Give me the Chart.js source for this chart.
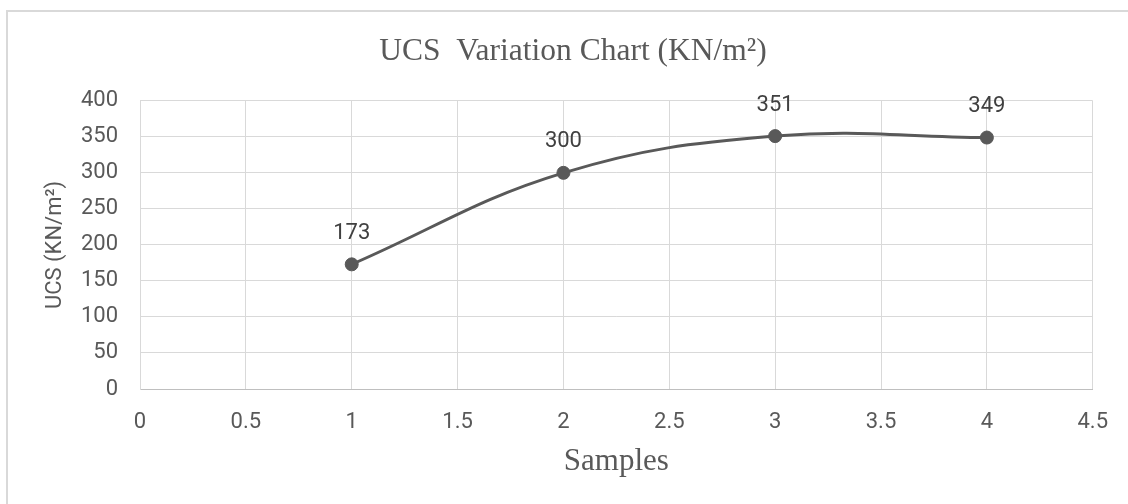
<!DOCTYPE html>
<html>
<head>
<meta charset="utf-8">
<script src="https://cdn.jsdelivr.net/npm/chart.js@4/dist/chart.umd.min.js"></script>
<style>
  html, body { margin: 0; padding: 0; background: #fff; }
  #wrap { position: relative; width: 1128px; height: 504px; overflow: hidden; }
  #frame { position: absolute; left: 6px; top: 10px; width: 1200px; height: 600px; border: 2px solid #d9d9d9; box-sizing: border-box; }
  #chart { position: absolute; left: 0; top: 0; }
</style>
</head>
<body>
<div id="wrap">
  <div id="frame"></div>
  <canvas id="chart" width="1128" height="504"></canvas>
</div>
<script>
// values
const samples = [1, 2, 3, 4];
const ucsValues = [173, 300, 351, 349];
const xTickLabels = ["0", "0.5", "1", "1.5", "2", "2.5", "3", "3.5", "4", "4.5"];
const yTickLabels = ["0", "50", "100", "150", "200", "250", "300", "350", "400"];

const TEXT = "#595959";
const GRID = "#d9d9d9";

Chart.defaults.font.family = "Roboto, 'Liberation Sans', sans-serif";
Chart.defaults.color = TEXT;

// simple point labels above each marker
const pointLabels = {
  id: "pointLabels",
  afterDatasetsDraw(chart) {
    const { ctx } = chart;
    const meta = chart.getDatasetMeta(0);
    ctx.save();
    ctx.font = "22px Roboto, sans-serif";
    ctx.fillStyle = "#404040";
    ctx.textAlign = "center";
    ctx.textBaseline = "middle";
    meta.data.forEach((pt, i) => {
      ctx.fillText(String(ucsValues[i]), pt.x, pt.y - 31);
    });
    ctx.restore();
  },
};

new Chart(document.getElementById("chart"), {
  type: "line",
  data: {
    datasets: [
      {
        label: "UCS",
        data: samples.map((x, i) => ({ x, y: ucsValues[i] })),
        borderColor: TEXT,
        borderWidth: 3,
        backgroundColor: TEXT,
        pointBackgroundColor: TEXT,
        pointBorderColor: TEXT,
        pointBorderWidth: 1,
        pointRadius: 6.5,
        tension: 0.4,
        fill: false,
      },
    ],
  },
  options: {
    responsive: false,
    animation: false,
    // left padding shifts the title centre to match the reference
    layout: { padding: { left: 49, right: 31, top: 0, bottom: 0 } },
    plugins: {
      legend: { display: false },
      tooltip: { enabled: false },
      title: {
        display: true,
        text: "UCS  Variation Chart (KN/m\u00B2)",
        color: TEXT,
        font: { family: "'Liberation Serif', 'Times New Roman', serif", size: 31.5, weight: "normal", lineHeight: 1.2 },
        padding: { top: 33, bottom: 30 },
      },
    },
    scales: {
      x: {
        type: "linear",
        min: 0,
        max: 4.5,
        afterFit(scale) { scale.height = 115; },
        ticks: {
          stepSize: 0.5,
          padding: 20,
          color: TEXT,
          font: { size: 22 },
          maxRotation: 0,
          callback: (value, index) => xTickLabels[index],
        },
        grid: { color: GRID, lineWidth: 1, drawTicks: false },
        border: { color: "#bfbfbf", width: 1 },
        title: {
          display: true,
          text: "Samples",
          color: TEXT,
          font: { family: "'Liberation Serif', 'Times New Roman', serif", size: 31, lineHeight: 1.2 },
          padding: { top: 0, bottom: 24 },
        },
      },
      y: {
        min: 0,
        max: 400,
        afterFit(scale) { scale.width = 91; },
        ticks: {
          stepSize: 50,
          padding: 22,
          color: TEXT,
          font: { size: 22 },
          callback: (value, index) => yTickLabels[index],
        },
        grid: { color: GRID, lineWidth: 1, drawTicks: false },
        border: { color: GRID, width: 1 },
        title: {
          display: true,
          text: "UCS (KN/m\u00B2)",
          color: TEXT,
          font: { size: 22, lineHeight: 1.2 },
          padding: { top: -7, bottom: 0 },
        },
      },
    },
  },
  plugins: [pointLabels],
});
</script>
</body>
</html>
